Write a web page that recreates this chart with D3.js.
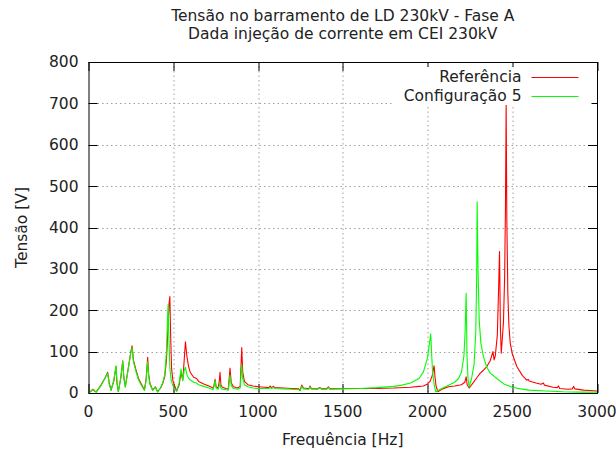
<!DOCTYPE html>
<html>
<head>
<meta charset="utf-8">
<script src="https://cdn.jsdelivr.net/npm/d3@7"></script>
<style>
  body { margin: 0; background: #fff; }
  svg { font-family: "DejaVu Sans", sans-serif; }
</style>
</head>
<body>
<svg width="616" height="450"></svg>
<script>
// Referência
var freqRef = [0, 12, 25, 45, 74, 100, 113, 122, 133, 150, 162, 168, 176, 190, 202, 208, 217, 233, 250, 257, 265, 280, 295, 310, 330, 340, 349, 355, 363, 379, 394, 408, 425, 438, 450, 460, 468, 475, 480, 484, 490, 498, 507, 520, 535, 546, 556, 563, 572, 580, 590, 600, 620, 638, 650, 680, 710, 735, 741, 747, 753, 765, 772, 776, 781, 790, 810, 825, 835, 842, 855, 880, 895, 904, 910, 920, 940, 970, 1000, 1040, 1065, 1071, 1080, 1091, 1100, 1150, 1200, 1240, 1248, 1258, 1268, 1290, 1300, 1307, 1315, 1350, 1366, 1375, 1405, 1415, 1425, 1500, 1600, 1700, 1800, 1900, 1950, 1976, 2000, 2015, 2028, 2035, 2039, 2044, 2050, 2061, 2090, 2124, 2160, 2200, 2220, 2228, 2234, 2246, 2270, 2293, 2311, 2330, 2350, 2370, 2386, 2393, 2400, 2412, 2420, 2425, 2430, 2435, 2440, 2448, 2455, 2460, 2464, 2468, 2474, 2480, 2488, 2500, 2527, 2560, 2586, 2594, 2600, 2640, 2670, 2684, 2690, 2740, 2765, 2773, 2780, 2830, 2855, 2861, 2870, 2920, 2960, 3000];
var tensaoRef = [1, 4, 9, 2, 19, 38, 50, 25, 7, 30, 64, 25, 3, 35, 78, 40, 15, 56, 100, 114, 80, 56, 35, 23, 7, 35, 86, 45, 23, 7, 15, 3, 12, 23, 40, 80, 150, 215, 233, 150, 60, 30, 19, 5, 20, 50, 31, 70, 124, 90, 65, 50, 38, 35, 28, 22, 17, 12, 20, 33, 15, 12, 30, 50, 20, 14, 11, 10, 60, 25, 15, 12, 16, 110, 50, 28, 20, 17, 15, 14, 13, 17, 13, 16, 13, 12, 11, 10, 6, 19, 12, 11, 10, 17, 11, 10, 13, 10, 10, 15, 10, 11, 11, 11, 12, 14, 16, 17, 22, 28, 42, 58, 66, 40, 18, 3, 10, 15, 17, 20, 26, 39, 20, 12, 25, 38, 48, 55, 64, 78, 100, 80, 90, 140, 260, 342, 160, 96, 124, 170, 280, 450, 700, 420, 240, 165, 121, 95, 64, 42, 31, 33, 29, 24, 21, 24, 19, 14, 13, 17, 11, 9, 10, 16, 10, 7, 6, 5];

// Configuração 5
var freqCfg = [0, 12, 25, 45, 74, 100, 113, 122, 133, 150, 162, 168, 176, 190, 202, 208, 217, 233, 250, 257, 265, 280, 295, 310, 330, 340, 349, 355, 363, 379, 394, 408, 425, 438, 450, 460, 466, 470, 474, 480, 488, 498, 507, 520, 535, 546, 556, 565, 572, 580, 590, 600, 620, 638, 650, 680, 710, 735, 741, 747, 753, 765, 772, 776, 781, 790, 810, 825, 835, 842, 855, 880, 895, 904, 910, 920, 940, 970, 1000, 1040, 1065, 1071, 1080, 1091, 1100, 1150, 1200, 1240, 1248, 1258, 1268, 1290, 1300, 1307, 1315, 1350, 1366, 1375, 1405, 1415, 1425, 1500, 1600, 1700, 1800, 1850, 1900, 1950, 1976, 2000, 2010, 2019, 2025, 2030, 2040, 2049, 2061, 2090, 2124, 2160, 2183, 2200, 2215, 2222, 2228, 2233, 2239, 2246, 2260, 2275, 2285, 2290, 2293, 2298, 2305, 2315, 2330, 2350, 2370, 2409, 2450, 2500, 2550, 2600, 2700, 2800, 2900, 3000];
var tensaoCfg = [1, 3, 8, 2, 18, 38, 48, 22, 6, 32, 66, 25, 3, 35, 77, 38, 14, 54, 98, 110, 76, 52, 32, 20, 6, 30, 76, 40, 20, 6, 14, 2, 12, 25, 45, 100, 180, 215, 140, 60, 30, 18, 10, 4, 25, 58, 30, 55, 62, 45, 36, 32, 26, 24, 20, 16, 12, 8, 18, 30, 12, 9, 18, 24, 12, 9, 8, 7, 43, 18, 11, 9, 12, 68, 35, 20, 15, 12, 11, 11, 11, 14, 11, 13, 11, 10, 9, 8, 5, 16, 10, 9, 9, 15, 9, 9, 12, 9, 9, 13, 9, 10, 11, 13, 16, 19, 24, 35, 51, 85, 115, 143, 90, 50, 18, 3, 6, 12, 19, 26, 35, 50, 90, 150, 241, 90, 35, 15, 35, 70, 150, 280, 462, 300, 176, 120, 88, 62, 48, 35, 22, 14, 10, 7, 5, 3, 2, 2];

var xTicks = [0, 500, 1000, 1500, 2000, 2500, 3000];
var yTicks = [0, 100, 200, 300, 400, 500, 600, 700, 800];
var titleLines = ["Tensão no barramento de LD 230kV - Fase A", "Dada injeção de corrente em CEI 230kV"];
var series = [
  {name: "Referência", f: freqRef, v: tensaoRef, color: "#ff0000"},
  {name: "Configuração 5", f: freqCfg, v: tensaoCfg, color: "#00ff00"}
];

var fs = "15.5px";

var svg = d3.select("svg"),
    margin = {top: 62, right: 19, bottom: 57, left: 88.5},
    width = 616 - margin.left - margin.right,
    height = 450 - margin.top - margin.bottom;

var x = d3.scaleLinear().domain([0, 3000]).range([0, width]),
    y = d3.scaleLinear().domain([0, 800]).range([height, 0]);

var g = svg.append("g")
    .attr("transform", "translate(" + margin.left + "," + margin.top + ")");

g.append("clipPath").attr("id", "clip")
  .append("rect").attr("width", width).attr("height", height);

// grid
g.selectAll(".gx").data(xTicks.slice(1, -1)).enter().append("line")
    .attr("x1", function(d) { return Math.round(x(d)) + 0.5; })
    .attr("x2", function(d) { return Math.round(x(d)) + 0.5; })
    .attr("y1", 0).attr("y2", height)
    .style("stroke", "#a0a0a0").style("stroke-dasharray", "1.5,3");
g.selectAll(".gy").data(yTicks.slice(1, -1)).enter().append("line")
    .attr("y1", function(d) { return Math.round(y(d)) + 0.5; })
    .attr("y2", function(d) { return Math.round(y(d)) + 0.5; })
    .attr("x1", 0).attr("x2", width)
    .style("stroke", "#a0a0a0").style("stroke-dasharray", "1.5,3");

// ticks on all four sides, pointing in
var tl = 9;
xTicks.forEach(function(d) {
  var px = Math.round(x(d)) + 0.5;
  g.append("line").attr("x1", px).attr("x2", px).attr("y1", height).attr("y2", height - tl).style("stroke", "#000");
  g.append("line").attr("x1", px).attr("x2", px).attr("y1", 0).attr("y2", tl).style("stroke", "#000");
  g.append("text").attr("x", x(d)).attr("y", height + 24)
    .attr("text-anchor", "middle").style("font-size", fs).style("fill", "#222").text(d);
});
yTicks.forEach(function(d) {
  var py = Math.round(y(d)) + 0.5;
  g.append("line").attr("y1", py).attr("y2", py).attr("x1", 0).attr("x2", tl).style("stroke", "#000");
  g.append("line").attr("y1", py).attr("y2", py).attr("x1", width).attr("x2", width - tl).style("stroke", "#000");
  g.append("text").attr("x", -10).attr("y", y(d)).attr("dy", "0.35em")
    .attr("text-anchor", "end").style("font-size", fs).style("fill", "#222").text(d);
});

// curves
var line = d3.line()
    .x(function(d) { return x(d[0]); })
    .y(function(d) { return y(d[1]); });

var plot = g.append("g").attr("clip-path", "url(#clip)");
series.forEach(function(s) {
  var pts = s.f.map(function(f, i) { return [f, s.v[i]]; });
  plot.append("path").datum(pts)
      .attr("d", line)
      .style("fill", "none")
      .style("stroke", s.color)
      .style("stroke-width", 1.1)
      .style("stroke-linejoin", "round");
});

// key (opaque)
g.append("rect").attr("x", 305).attr("y", 5).attr("width", 198).attr("height", 38).style("fill", "#fff");
series.forEach(function(s, i) {
  var ky = 15 + i * 19;
  g.append("text").attr("x", 433).attr("y", ky).attr("dy", "0.35em")
    .attr("text-anchor", "end").style("font-size", fs).style("fill", "#222").text(s.name);
  g.append("line").attr("x1", 443).attr("x2", 490).attr("y1", ky + 0.5).attr("y2", ky + 0.5)
    .style("stroke", s.color);
});

// border
g.append("rect").attr("x", 0.5).attr("y", 0.5).attr("width", width).attr("height", height)
    .style("fill", "none").style("stroke", "#000");

// titles
titleLines.forEach(function(t, i) {
  svg.append("text").attr("x", margin.left + width / 2).attr("y", 21 + i * 18)
    .attr("text-anchor", "middle").style("font-size", fs).style("fill", "#222").text(t);
});
svg.append("text").attr("x", margin.left + width / 2).attr("y", 445)
  .attr("text-anchor", "middle").style("font-size", fs).style("fill", "#222").text("Frequência [Hz]");
svg.append("text").attr("transform", "translate(27," + (margin.top + height / 2) + ") rotate(-90)")
  .attr("text-anchor", "middle").style("font-size", fs).style("fill", "#222").text("Tensão [V]");
</script>
</body>
</html>
